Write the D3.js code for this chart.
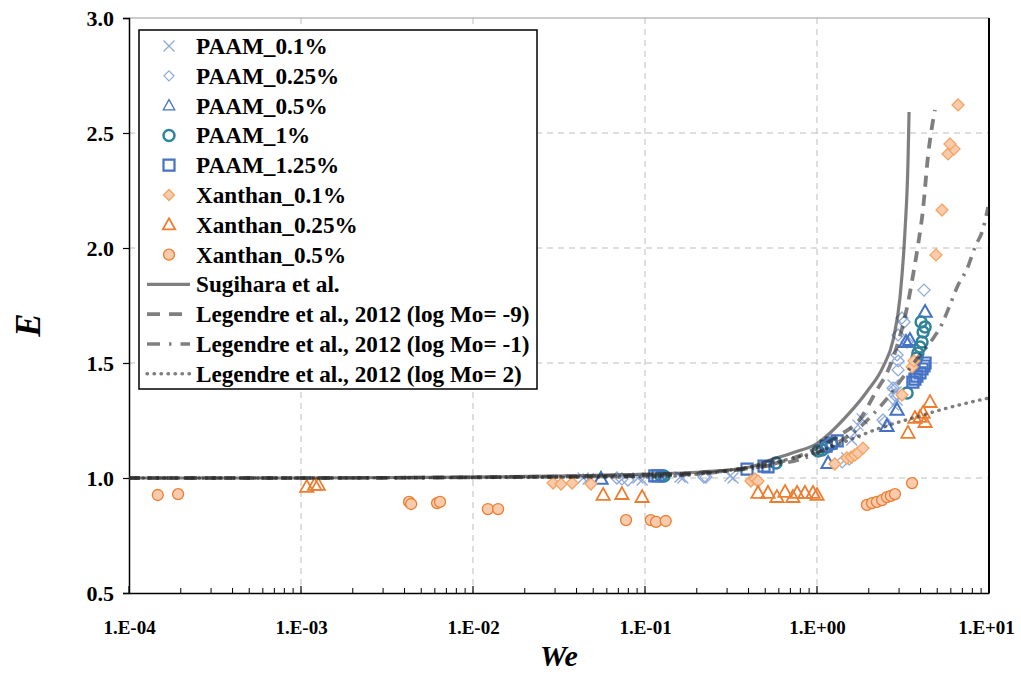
<!DOCTYPE html>
<html><head><meta charset="utf-8">
<script src="https://cdn.jsdelivr.net/npm/d3@7"></script>
<style>
body{margin:0;background:#fff;}
svg{display:block;}
text{font-family:"Liberation Serif","Times New Roman","DejaVu Serif",serif;font-weight:bold;fill:#000;}
</style>
</head><body>
<svg id="chart" width="1021" height="676"></svg>
<script>
// ---------- data: [We, E] ----------
const paam01 = [[4.37e-2,1.000],[4.67e-2,0.996],[9.10e-2,1.000],[9.62e-2,0.991],[0.160,1.004],[0.166,1.000],[0.312,1.009],[0.325,1.000],[1.49,1.087],[1.59,1.165],[1.66,1.196],[1.73,1.230],[1.83,1.257],[2.79,1.317],[2.92,1.339],[2.88,1.374],[2.77,1.404]];
const paam025 = [[6.87e-2,1.000],[7.34e-2,0.996],[7.96e-2,0.991],[0.220,1.004],[0.226,1.004],[1.40,1.070],[1.54,1.083],[2.42,1.252],[2.48,1.243],[2.77,1.391],[2.84,1.361],[2.96,1.470],[2.96,1.509],[2.92,1.535],[2.96,1.622],[3.12,1.696],[3.21,1.678],[3.34,1.591],[4.19,1.817]];
const paam05 = [[5.55e-2,0.996],[1.16,1.065],[2.55,1.226],[2.92,1.296],[3.29,1.591],[3.47,1.600],[4.25,1.722]];
const paam1 = [[0.124,1.009],[0.129,1.009],[0.578,1.065],[1.013,1.117],[1.07,1.122],[1.14,1.135],[1.22,1.148],[3.34,1.370],[3.81,1.522],[3.86,1.543],[3.97,1.570],[4.08,1.591],[4.03,1.678],[4.25,1.657],[4.14,1.635]];
const paam125 = [[0.114,1.009],[0.119,1.009],[0.392,1.039],[0.492,1.052],[0.519,1.048],[1.13,1.139],[1.21,1.152],[1.31,1.161],[3.61,1.417],[3.71,1.430],[3.81,1.443],[3.97,1.457],[4.08,1.474],[4.19,1.487],[4.25,1.500]];
const xan01 = [[2.92e-2,0.978],[3.25e-2,0.974],[3.77e-2,0.978],[4.85e-2,0.974],[0.413,0.987],[0.436,0.996],[0.454,0.987],[1.27,1.061],[1.49,1.087],[1.58,1.091],[1.66,1.100],[1.73,1.109],[1.85,1.130],[3.12,1.361],[3.57,1.483],[3.66,1.509],[4.92,1.970],[5.33,2.165],[5.78,2.409],[6.26,2.430],[5.93,2.452],[6.61,2.622]];
const xan025 = [[1.08e-3,0.961],[1.20e-3,0.970],[1.26e-3,0.970],[5.71e-2,0.926],[7.34e-2,0.930],[9.62e-2,0.917],[0.454,0.935],[0.519,0.935],[0.585,0.917],[0.652,0.939],[0.724,0.917],[0.766,0.935],[0.851,0.935],[0.948,0.935],[1.0,0.926],[3.38,1.196],[3.71,1.261],[3.97,1.265],[4.14,1.283],[4.25,1.243],[4.54,1.330]];
const xan05 = [[1.47e-4,0.926],[1.93e-4,0.930],[4.25e-3,0.896],[4.37e-3,0.887],[6.18e-3,0.891],[6.43e-3,0.896],[1.22e-2,0.865],[1.40e-2,0.865],[7.76e-2,0.817],[0.108,0.817],[0.116,0.809],[0.132,0.813],[1.95,0.883],[2.09,0.891],[2.23,0.896],[2.39,0.904],[2.55,0.917],[2.69,0.922],[2.84,0.930],[3.57,0.978]];

const sugihara = [[1e-4,1.0],[1e-3,1.0],[1e-2,1.004],[0.1,1.017],[0.209,1.026],[0.408,1.048],[0.555,1.082],[0.724,1.110],[1.0,1.150],[1.49,1.270],[1.95,1.375],[2.42,1.483],[2.77,1.6],[3.04,1.787],[3.25,2.078],[3.38,2.37],[3.43,2.591]];
const legMinus9 = [[1e-4,1.0],[1e-3,1.0],[1e-2,1.003],[0.1,1.013],[0.408,1.043],[0.948,1.122],[1.36,1.187],[1.78,1.257],[2.23,1.383],[2.55,1.457],[2.92,1.574],[3.38,1.761],[3.61,1.878],[3.86,2.009],[4.13,2.165],[4.42,2.400],[4.85,2.600]];
const legMinus1 = [[1e-4,1.0],[1e-3,1.0],[1e-2,1.003],[0.1,1.009],[0.609,1.061],[1.19,1.135],[1.78,1.222],[2.32,1.309],[3.34,1.461],[3.97,1.535],[4.66,1.600],[5.33,1.670],[5.93,1.752],[6.61,1.839],[7.45,1.909],[8.29,2.004],[9.23,2.083],[9.87,2.178]];
const legPlus2 = [[1e-4,1.0],[1e-3,1.0],[1e-2,1.002],[0.1,1.004],[0.408,1.048],[0.697,1.083],[1.0,1.113],[1.49,1.161],[2.32,1.217],[3.61,1.261],[5.70,1.304],[10,1.348]];

const seriesNames = ["PAAM_0.1%","PAAM_0.25%","PAAM_0.5%","PAAM_1%","PAAM_1.25%","Xanthan_0.1%","Xanthan_0.25%","Xanthan_0.5%","Sugihara et al.","Legendre et al., 2012 (log Mo= -9)","Legendre et al., 2012 (log Mo= -1)","Legendre et al., 2012 (log Mo= 2)"];
const xTickValues = [1e-4,1e-3,1e-2,1e-1,1e0,1e1];
const xTickLabels = ["1.E-04","1.E-03","1.E-02","1.E-01","1.E+00","1.E+01"];
const yTickValues = [0.5,1.0,1.5,2.0,2.5,3.0];
const yTickLabels = ["0.5","1.0","1.5","2.0","2.5","3.0"];

// ---------- chart ----------
const svg = d3.select("#chart");
const L = 129, R = 989, T = 18, B = 593;
const x = d3.scaleLog().domain([1e-4, 10]).range([L, R]);
const y = d3.scaleLinear().domain([0.5, 3]).range([B, T]);

// grid
const grid = svg.append("g").attr("stroke", "#bdbdbd").attr("stroke-width", 1).attr("stroke-dasharray", "6,5");
xTickValues.slice(1, -1).forEach(v => grid.append("line").attr("x1", x(v)).attr("x2", x(v)).attr("y1", T).attr("y2", B));
yTickValues.slice(1, -1).forEach(v => grid.append("line").attr("x1", L).attr("x2", R).attr("y1", y(v)).attr("y2", y(v)));

// frame
svg.append("line").attr("x1", L).attr("x2", R).attr("y1", T).attr("y2", T).attr("stroke", "#9a9a9a").attr("stroke-width", 1);
svg.append("line").attr("x1", R).attr("x2", R).attr("y1", T).attr("y2", B).attr("stroke", "#000").attr("stroke-width", 2);

// axes
const xAxis = d3.axisBottom(x).tickValues(xTickValues).tickSize(0).tickFormat((d, i) => xTickLabels[i]);
const gx = svg.append("g").attr("transform", `translate(0,${B})`).call(xAxis);
gx.attr("font-family", null);
gx.select(".domain").attr("stroke", "#000").attr("stroke-width", 1.5);
gx.selectAll("text").attr("dy", null).attr("y", 41).style("font-size", "19px")
  .attr("x", (d, i) => i === xTickValues.length - 1 ? -3 : 0);
// minor ticks (inside)
const minor = [];
for (let e = -4; e < 1; e++) for (let k = 2; k <= 9; k++) minor.push(k * Math.pow(10, e));
svg.append("g").selectAll("line").data(minor).join("line")
  .attr("x1", d => x(d)).attr("x2", d => x(d)).attr("y1", B).attr("y2", B - 5)
  .attr("stroke", "#000").attr("stroke-width", 1);
svg.append("g").selectAll("line").data(xTickValues).join("line")
  .attr("x1", d => x(d)).attr("x2", d => x(d)).attr("y1", B).attr("y2", B - 7)
  .attr("stroke", "#000").attr("stroke-width", 1.2);

const yAxis = d3.axisLeft(y).tickValues(yTickValues).tickSize(6).tickFormat((d, i) => yTickLabels[i]);
const gy = svg.append("g").attr("transform", `translate(${L},0)`).call(yAxis);
gy.attr("font-family", null);
gy.select(".domain").attr("stroke", "#000").attr("stroke-width", 1.5);
gy.selectAll(".tick line").attr("stroke", "#000").attr("stroke-width", 1.2);
gy.selectAll("text").attr("x", -15).style("font-size", "22px");

// axis titles
svg.append("text").attr("x", 559).attr("y", 666).attr("text-anchor", "middle")
  .style("font-size", "30px").style("font-style", "italic").text("We");
svg.append("text").attr("transform", "translate(40,325) rotate(-90)").attr("text-anchor", "middle")
  .style("font-size", "35px").style("font-style", "italic").text("E");

// marker shapes
const shapes = {
  x: s => `M${-s},${-s}L${s},${s}M${-s},${s}L${s},${-s}`,
  diamond: s => `M0,${-s}L${s},0L0,${s}L${-s},0Z`,
  triangle: s => `M0,${-s}L${s*0.95},${s*0.7}L${-s*0.95},${s*0.7}Z`,
  square: s => `M${-s},${-s}H${s}V${s}H${-s}Z`,
  circle: s => `M${s},0A${s},${s},0,1,1,${-s},0A${s},${s},0,1,1,${s},0Z`
};

const markerSeries = [
  {data: paam01, shape: "x", size: 5.5, stroke: "#8eaadb", fill: "none", sw: 1.3},
  {data: paam025, shape: "diamond", size: 6, stroke: "#8eaadb", fill: "none", sw: 1.3},
  {data: paam05, shape: "triangle", size: 7, stroke: "#4472c4", fill: "none", sw: 2},
  {data: paam1, shape: "circle", size: 5.5, stroke: "#31849b", fill: "none", sw: 2.5},
  {data: paam125, shape: "square", size: 5.5, stroke: "#4472c4", fill: "none", sw: 2.2},
  {data: xan01, shape: "diamond", size: 6, stroke: "#f4a460", fill: "#f8cbad", sw: 1.3},
  {data: xan025, shape: "triangle", size: 7, stroke: "#ed7d31", fill: "none", sw: 1.8},
  {data: xan05, shape: "circle", size: 5.5, stroke: "#ed7d31", fill: "#f8cbad", sw: 1.3}
];
const legendMarker = [
  {size: 5.5, sw: 1.3}, {size: 5, sw: 1.2}, {size: 6, sw: 1.3}, {size: 5.5, sw: 2.5},
  {size: 5.5, sw: 2.2}, {size: 5.5, sw: 1.3}, {size: 6.5, sw: 1.8}, {size: 5.5, sw: 1.3}
];

const plot = svg.append("g");
markerSeries.forEach(s => {
  plot.append("g").selectAll("path").data(s.data).join("path")
    .attr("transform", d => `translate(${x(d[0])},${y(d[1])})`)
    .attr("d", shapes[s.shape](s.size))
    .attr("stroke", s.stroke).attr("fill", s.fill).attr("stroke-width", s.sw);
});

// model curves
const lineGen = d3.line().x(d => x(d[0])).y(d => y(d[1])).curve(d3.curveMonotoneX);
const curveSeries = [
  {data: sugihara, dash: null, legDash: null, sw: 3.2, cap: "butt"},
  {data: legMinus9, dash: "11,8", legDash: "13,9", sw: 3.8, cap: "butt"},
  {data: legMinus1, dash: "11,7,2.5,7", legDash: "13,9,2.5,9", sw: 3.6, cap: "butt"},
  {data: legPlus2, dash: "0.5,6.5", legDash: "0.5,6.5", sw: 3.4, cap: "round"}
];
svg.append("clipPath").attr("id", "clip").append("rect").attr("x", L).attr("y", T).attr("width", R - L).attr("height", B - T);
const cg = svg.append("g").attr("clip-path", "url(#clip)");
curveSeries.forEach(c => {
  cg.append("path").attr("d", lineGen(c.data)).attr("fill", "none")
    .attr("stroke", "#2a2a2a").attr("stroke-opacity", 0.6).attr("stroke-width", c.sw)
    .attr("stroke-dasharray", c.dash).attr("stroke-linecap", c.cap);
});

// legend
const lg = svg.append("g");
lg.append("rect").attr("x", 139).attr("y", 30).attr("width", 398).attr("height", 359)
  .attr("fill", "#fff").attr("stroke", "#000").attr("stroke-width", 1.5);
const rowY = i => 46 + i * 29.8;
seriesNames.forEach((name, i) => {
  lg.append("text").attr("x", 196).attr("y", rowY(i) + 8).style("font-size", "23.2px").text(name);
  if (i < markerSeries.length) {
    const s = markerSeries[i], m = legendMarker[i];
    lg.append("path").attr("transform", `translate(169,${rowY(i)})`).attr("d", shapes[s.shape](m.size))
      .attr("stroke", s.stroke).attr("fill", s.fill).attr("stroke-width", m.sw);
  } else {
    const c = curveSeries[i - markerSeries.length];
    lg.append("line").attr("x1", 147).attr("x2", 190).attr("y1", rowY(i)).attr("y2", rowY(i))
      .attr("stroke", "#2a2a2a").attr("stroke-opacity", 0.6).attr("stroke-width", c.sw)
      .attr("stroke-dasharray", c.legDash).attr("stroke-linecap", c.cap);
  }
});
</script>
</body></html>
